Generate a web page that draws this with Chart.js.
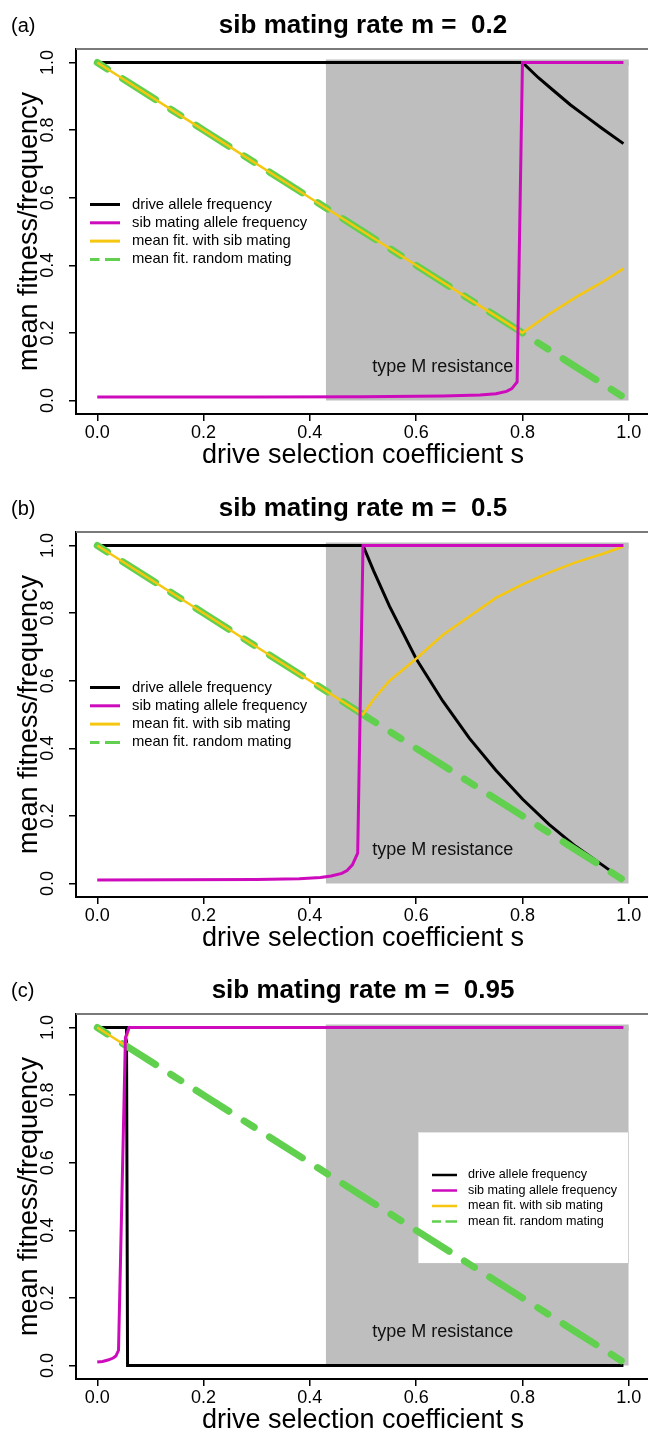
<!DOCTYPE html>
<html>
<head>
<meta charset="utf-8">
<script src="https://cdn.jsdelivr.net/npm/chart.js@4.4.1/dist/chart.umd.min.js"></script>
<style>
html, body { margin: 0; padding: 0; background: #fff; }
body { width: 648px; height: 1432px; overflow: hidden; position: relative; }
.panel { position: absolute; left: 0; width: 660px; height: 482px; }
</style>
</head>
<body>
<div class="panel" style="top:-6px"><canvas id="pa" width="660" height="482"></canvas></div>
<div class="panel" style="top:477px"><canvas id="pb" width="660" height="482"></canvas></div>
<div class="panel" style="top:959px"><canvas id="pc" width="660" height="482"></canvas></div>
<script>
// axis ticks and labels
const xTicks = [0, 0.2, 0.4, 0.6, 0.8, 1.0];
const yTicks = [0, 0.2, 0.4, 0.6, 0.8, 1.0];
const legendLabels = ['drive allele frequency', 'sib mating allele frequency',
                      'mean fit. with sib mating', 'mean fit. random mating'];
const panelLabels = ['(a)', '(b)', '(c)'];
const sibRates = ['0.2', '0.5', '0.95'];
const shadeS = [0.43, 1.0];          // type M resistance region (s range)
const shadeTop = [1, 1];
const resistLabelAt = [0.65, 0.10];  // s, value

// mean fitness with random mating (same in every panel)
const sRandom = [0, 0.1, 0.2, 0.3, 0.4, 0.5, 0.6, 0.7, 0.8, 0.9, 0.99];
const fitRandom = [1, 0.9, 0.8, 0.7, 0.6, 0.5, 0.4, 0.3, 0.2, 0.1, 0.01];

// (a) m = 0.2
const sDriveA = [0, 0.80, 0.83, 0.86, 0.89, 0.92, 0.95, 0.99];
const driveA  = [1, 1, 0.955, 0.915, 0.875, 0.84, 0.805, 0.76];
const sSibA = [0, 0.3, 0.5, 0.65, 0.72, 0.75, 0.77, 0.78, 0.79, 0.80, 0.99];
const sibA  = [0.01, 0.01, 0.011, 0.013, 0.016, 0.02, 0.027, 0.035, 0.055, 1, 1];
const sFitA = [0, 0.2, 0.4, 0.6, 0.8, 0.85, 0.9, 0.95, 0.99];
const fitA  = [1, 0.8, 0.6, 0.4, 0.2, 0.255, 0.305, 0.35, 0.39];

// (b) m = 0.5
const sDriveB = [0, 0.50, 0.52, 0.55, 0.60, 0.65, 0.70, 0.75, 0.80, 0.85, 0.90, 0.95, 0.99];
const driveB  = [1, 1, 0.925, 0.82, 0.665, 0.54, 0.43, 0.335, 0.25, 0.175, 0.11, 0.055, 0.01];
const sSibB = [0, 0.3, 0.38, 0.42, 0.44, 0.46, 0.47, 0.48, 0.49, 0.50, 0.99];
const sibB  = [0.01, 0.012, 0.014, 0.018, 0.022, 0.03, 0.038, 0.055, 0.09, 1, 1];
const sFitB = [0, 0.25, 0.50, 0.52, 0.55, 0.60, 0.65, 0.70, 0.75, 0.80, 0.85, 0.90, 0.95, 0.99];
const fitB  = [1, 0.75, 0.50, 0.545, 0.60, 0.665, 0.735, 0.79, 0.845, 0.885, 0.92, 0.95, 0.975, 0.997];

// (c) m = 0.95
const sDriveC = [0, 0.055, 0.057, 0.99];
const driveC  = [1, 1, 0, 0];
const sSibC = [0, 0.01, 0.02, 0.03, 0.035, 0.04, 0.053, 0.06, 0.99];
const sibC  = [0.01, 0.012, 0.016, 0.022, 0.028, 0.045, 0.97, 1, 1];
const sFitC = [0, 0.052, 0.06, 0.99];
const fitC  = [1, 0.948, 1, 1];

const FONT = "'Liberation Sans', Arial, Helvetica, sans-serif";
const colors = ['#000000', '#CD0BBC', '#F5C710', '#61D04F'];

Chart.defaults.font.family = FONT;
Chart.defaults.color = '#000';

function toXY(xs, ys) {
  return xs.map((v, i) => ({ x: v, y: ys[i] }));
}

function drawLegend(ctx, x0, y0, dy, len, gap, size, lw, dash) {
  ctx.font = size + 'px ' + FONT;
  ctx.textAlign = 'left';
  ctx.textBaseline = 'middle';
  legendLabels.forEach((t, i) => {
    const yy = y0 + i * dy;
    ctx.beginPath();
    ctx.lineWidth = lw;
    ctx.lineCap = 'butt';
    ctx.strokeStyle = colors[i];
    ctx.setLineDash(i === 3 ? dash : []);
    ctx.moveTo(x0, yy);
    ctx.lineTo(x0 + len, yy);
    ctx.stroke();
    ctx.setLineDash([]);
    ctx.fillStyle = '#000';
    ctx.fillText(t, x0 + len + gap, yy);
  });
}

function decor(idx) {
  return {
    id: 'decor' + idx,
    afterDatasetDraw(chart, args) {
      if (args.index !== 0) return;   // right after the grey region
      const { ctx, scales: { x, y } } = chart;
      ctx.save();
      if (idx === 2) {
        ctx.fillStyle = '#fff';
        ctx.fillRect(418, 173, 210, 131);
        ctx.strokeStyle = '#c8c8c8';
        ctx.lineWidth = 1;
        ctx.setLineDash([1, 1]);
        ctx.strokeRect(418.5, 173.5, 210, 131);
        ctx.setLineDash([]);
        drawLegend(ctx, 432, 216, 15.5, 25, 11, 12.6, 2.5, [9, 4.5, 12, 4]);
      }
      ctx.fillStyle = '#111';
      ctx.font = '18px ' + FONT;
      ctx.textAlign = 'center';
      ctx.textBaseline = 'middle';
      ctx.fillText('type M resistance', x.getPixelForValue(resistLabelAt[0]), y.getPixelForValue(resistLabelAt[1]));
      ctx.restore();
    },
    afterDraw(chart) {
      const { ctx, chartArea: a } = chart;
      ctx.save();
      // top edge of the box
      ctx.strokeStyle = '#7a7a7a';
      ctx.lineWidth = 2;
      ctx.beginPath();
      ctx.moveTo(a.left, a.top);
      ctx.lineTo(a.right, a.top);
      ctx.stroke();
      // title
      ctx.fillStyle = '#000';
      ctx.textBaseline = 'middle';
      ctx.textAlign = 'center';
      ctx.font = 'bold 26px ' + FONT;
      ctx.fillText('sib mating rate m =  ' + sibRates[idx], (a.left + a.right) / 2, 32);
      ctx.textAlign = 'left';
      ctx.font = '20px ' + FONT;
      ctx.fillText(panelLabels[idx], 11, 32);
      if (idx < 2) drawLegend(ctx, 90, 210.5, 18.3, 30, 12, 14.8, 3, [9.5, 5.5, 15, 5]);
      ctx.restore();
    }
  };
}

function makePanel(id, idx, d) {
  return new Chart(document.getElementById(id), {
    type: 'line',
    data: {
      datasets: [
        { label: 'shade', data: toXY(shadeS, shadeTop), fill: 'origin',
          backgroundColor: '#BEBEBE', borderColor: '#BEBEBE', borderWidth: 6, order: 4 },
        { label: legendLabels[0], data: toXY(d[0], d[1]), borderColor: colors[0], borderWidth: 3, order: 3 },
        { label: legendLabels[1], data: toXY(d[2], d[3]), borderColor: colors[1], borderWidth: 3, order: 0 },
        { label: legendLabels[2], data: toXY(d[4], d[5]), borderColor: colors[2], borderWidth: 2.5, order: 1 },
        { label: legendLabels[3], data: toXY(sRandom, fitRandom), borderColor: colors[3], borderWidth: 7,
          borderDash: [12, 18, 39, 18], borderCapStyle: 'round', order: 2 }
      ]
    },
    options: {
      responsive: false,
      animation: false,
      devicePixelRatio: 1,
      layout: { padding: { top: 55, right: 10, bottom: 0, left: 0 } },
      elements: { point: { radius: 0 }, line: { tension: 0, fill: false } },
      plugins: { legend: { display: false }, tooltip: { enabled: false }, title: { display: false } },
      scales: {
        x: {
          type: 'linear', min: -0.04, max: 1.04,
          afterBuildTicks: s => { s.ticks = xTicks.map(v => ({ value: v })); },
          afterFit: s => { s.height = 62; },
          grid: { drawOnChartArea: false, drawTicks: true, tickLength: 7, color: '#000', lineWidth: 1.5 },
          border: { display: true, color: '#000', width: 2 },
          ticks: { font: { size: 18 }, color: '#000', padding: 1, maxRotation: 0, autoSkip: false,
                   callback: v => v.toFixed(1) },
          title: { display: true, text: 'drive selection coefficient s', color: '#000',
                   font: { size: 27, lineHeight: 1 }, padding: { top: 0, bottom: 6.5 } }
        },
        y: {
          type: 'linear', min: -0.04, max: 1.04,
          afterBuildTicks: s => { s.ticks = yTicks.map(v => ({ value: v })); },
          afterFit: s => { s.width = 76; },
          grid: { drawOnChartArea: false, drawTicks: true, tickLength: 7, color: '#000', lineWidth: 1.5 },
          border: { display: true, color: '#000', width: 2 },
          ticks: { font: { size: 18 }, color: '#000', padding: 8, minRotation: 90, maxRotation: 90,
                   crossAlign: 'center', autoSkip: false, callback: v => v.toFixed(1) },
          title: { display: true, text: 'mean fitness/frequency', color: '#000',
                   font: { size: 27, lineHeight: 1 }, padding: { top: 16, bottom: 0 } }
        }
      }
    },
    plugins: [decor(idx)]
  });
}

makePanel('pa', 0, [sDriveA, driveA, sSibA, sibA, sFitA, fitA]);
makePanel('pb', 1, [sDriveB, driveB, sSibB, sibB, sFitB, fitB]);
makePanel('pc', 2, [sDriveC, driveC, sSibC, sibC, sFitC, fitC]);
</script>
</body>
</html>
